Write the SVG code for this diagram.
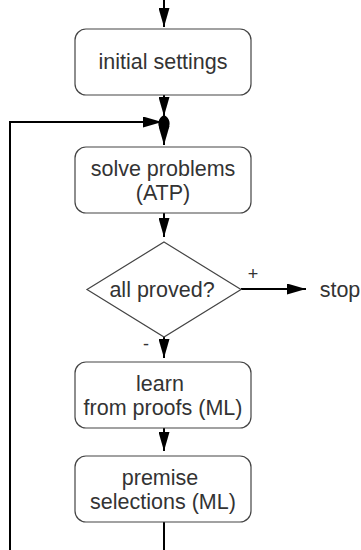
<svg xmlns="http://www.w3.org/2000/svg" width="361" height="550" viewBox="0 0 361 550">
<defs>
<style>
.box{fill:#fff;stroke:#444;stroke-width:1.2}
.t{font-family:"Liberation Sans",Arial,sans-serif;font-size:21.5px;fill:#333;text-anchor:middle}
.c{stroke:#000;stroke-width:2;fill:none}
.h{fill:#000;stroke:none}
</style>
<marker id="ah" markerWidth="19" markerHeight="11" refX="19" refY="5.5" viewBox="0 0 19 11" markerUnits="userSpaceOnUse" orient="auto"><path d="M0,0 L19,5.5 L0,11 Z" fill="#000"/></marker>
</defs>
<rect width="361" height="550" fill="#fff"/>
<g id="connectors">
<path class="c" d="M164,0 V27" marker-end="url(#ah)"/>
<path class="c" d="M164,95 V116" marker-end="url(#ah)"/>
<path class="h" d="M164,115 C170,118 171,124 168,129 L164,136 L160,129 C157,124 158,118 164,115 Z"/>
<path class="c" d="M10,550 V122 H162" marker-end="url(#ah)"/>
<path class="c" d="M164,124 V145" marker-end="url(#ah)"/>
<path class="c" d="M164,213 V237" marker-end="url(#ah)"/>
<path class="c" d="M241,289 H306" marker-end="url(#ah)"/>
<path class="c" d="M164,337 V358" marker-end="url(#ah)"/>
<path class="c" d="M164,428 V451" marker-end="url(#ah)"/>
<path class="c" d="M164,522 V550"/>
<text class="t" x="253" y="280" style="font-size:18px">+</text>
<text class="t" x="146" y="350" style="font-size:18px">-</text>
</g>
<g id="init">
<rect class="box" x="75" y="29" width="176" height="66" rx="11"/>
<text class="t" x="163" y="69">initial settings</text>
</g>
<g id="solve">
<rect class="box" x="75" y="147" width="176" height="66" rx="11"/>
<text class="t" x="163" y="176">solve problems</text>
<text class="t" x="163" y="200">(ATP)</text>
</g>
<g id="decision">
<polygon class="box" points="164,242 241,289.5 164,337 87,289.5"/>
<text class="t" x="162" y="297">all proved?</text>
</g>
<g id="stop">
<text class="t" x="340" y="297">stop</text>
</g>
<g id="learn">
<rect class="box" x="75" y="362" width="176" height="66" rx="11"/>
<text class="t" x="160" y="391">learn</text>
<text class="t" x="163" y="415">from proofs (ML)</text>
</g>
<g id="premise">
<rect class="box" x="75" y="456" width="176" height="66" rx="11"/>
<text class="t" x="160" y="485">premise</text>
<text class="t" x="163" y="509">selections (ML)</text>
</g>
</svg>
